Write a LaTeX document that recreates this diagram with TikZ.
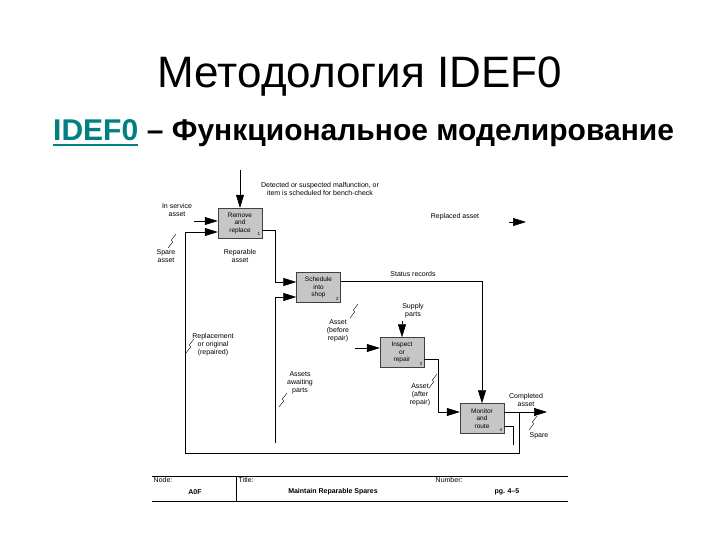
\documentclass[tikz,border=0pt]{standalone}
\usepackage{fontspec}
\setmainfont{Liberation Sans}
\usetikzlibrary{arrows.meta, positioning, calc}
\definecolor{idefteal}{RGB}{0,128,128}
\definecolor{boxgray}{RGB}{198,198,198}

\tikzset{
    funcbox/.style={draw=black!75, fill=boxgray, minimum width=44pt, minimum height=30pt, inner sep=1pt, align=center, font=\fontsize{6.5}{7.5}\selectfont},
    flow/.style={-{Triangle[length=13pt,width=8pt]}, line width=0.6pt},
    lab/.style={font=\fontsize{7}{8}\selectfont, align=center, inner sep=0.5pt},
    boxnum/.style={font=\fontsize{4.5}{5}\selectfont, inner sep=0pt},
    squig/.pic={\draw[line width=0.4pt] (-4,7) -- (0.6,1) -- (-0.6,-1) -- (4,-7);}
}

\begin{document}
\begin{tikzpicture}[x=1pt, y=-1pt]
    \useasboundingbox[fill=white] (0,0) rectangle (720,540);

    % title
    \node[anchor=base, font=\fontsize{44}{46}\selectfont] (title) at (360,88) {Методология IDEF0};
    \node[anchor=base west, inner xsep=0pt, font=\fontsize{30}{33}\selectfont\bfseries, text=idefteal] (subid) at (53,141) {IDEF0};
    \node[anchor=base west, inner xsep=0pt, font=\fontsize{30}{33}\selectfont\bfseries] (subrest) at (subid.base east) {\ – Функциональное моделирование};
    \draw[idefteal, line width=2pt] ($(subid.base west)+(0,4)$) -- ($(subid.base east)+(0,4)$);

    % activity boxes
    \node[funcbox] (rr)  at (240,223)   {Remove\\and\\replace};
    \node[funcbox] (sis) at (318.5,287.5) {Schedule\\into\\shop};
    \node[funcbox] (ior) at (402,352.5) {Inspect\\or\\repair};
    \node[funcbox] (mar) at (482,418.5) {Monitor\\and\\route};
    \foreach \b/\n in {rr/1, sis/2, ior/3, mar/4}
        \node[boxnum, anchor=south east] at ([shift={(-2pt,2pt)}]\b.south east) {\n};

    % free ends
    \coordinate (ctlin)  at (240,170);
    \coordinate (insvc)  at (194,221);
    \coordinate (rplfrom) at (509,222);
    \coordinate (rplto)  at (526,222);
    \coordinate (spbot)  at (185,453);
    \coordinate (awin)   at (275,443);
    \coordinate (bfin)   at (355,348);
    \coordinate (supin)  at (402,321);
    \coordinate (cmpout) at (547,412);
    \coordinate (spend)  at (513,445);

    % arrows
    \draw[flow] (ctlin) -- (rr.north);
    \draw[flow] (insvc) -- (insvc -| rr.west);
    \draw[flow] (rplfrom) -- (rplto);
    \draw[flow] ([yshift=-7pt]rr.east) -- ++(13,0) |- ([yshift=5.5pt]sis.west);
    \draw[flow] (awin) |- ([yshift=-9.5pt]sis.west);
    \draw[flow] ([yshift=6.5pt]sis.east) -| (mar.north);
    \draw[flow] (bfin) -- (bfin -| ior.west);
    \draw[flow] (supin) -- (ior.north);
    \draw[flow] ([yshift=-6.5pt]ior.east) -- ++(14,0) |- ([yshift=6.5pt]mar.west);
    \draw[flow] ([yshift=6.5pt]mar.east) -- (cmpout);
    \draw[flow] ([yshift=6.5pt]mar.east) -- ++(15,0) |- (spbot) |- ([yshift=-9pt]rr.west);
    \draw[line width=0.6pt] ([yshift=-7.5pt]mar.east) -| (spend);

    % labels
    \node[lab] (lctl) at (320,189) {Detected or suspected malfunction, or\\item is scheduled for bench-check};
    \node[lab] (lins) at (177,210) {In service\\asset};
    \node[lab] (lspa) at (166,256) {Spare\\asset};
    \node[lab] (lrep) at (240,256) {Reparable\\asset};
    \node[lab] (lrpl) at (455,217) {Replaced asset};
    \node[lab] (lsta) at (413,274) {Status records};
    \node[lab] (lsup) at (413,311) {Supply\\parts};
    \node[lab] (lbef) at (338,331) {Asset\\(before\\repair)};
    \node[lab] (lori) at (213,345) {Replacement\\or original\\(repaired)};
    \node[lab] (lawa) at (300,383) {Assets\\awaiting\\parts};
    \node[lab] (laft) at (420,395) {Asset\\(after\\repair)};
    \node[lab] (lcmp) at (526,400) {Completed\\asset};
    \node[lab] (lspr) at (539,436) {Spare};
    \foreach \sx/\sy in {172/241, 190/346, 354/311, 283/400, 433/381, 533/423}
        \pic at (\sx,\sy) {squig};

    % footer
    \draw[line width=0.7pt] (152,476) -- (568,476);
    \draw[line width=0.7pt] (152,501) -- (568,501);
    \draw[line width=0.7pt] (236,476) -- (236,501);
    \node[lab, anchor=north west] (fnode) at (153,477) {Node:};
    \node[lab, anchor=north west] (ftitle) at (238,477) {Title:};
    \node[lab, anchor=north west] (fnum) at (435,477) {Number:};
    \node[lab, font=\fontsize{7}{8}\selectfont\bfseries] (fa0) at (195,492) {A0F};
    \node[lab, font=\fontsize{7}{8}\selectfont\bfseries] (fmrs) at (333,492) {Maintain Reparable Spares};
    \node[lab, font=\fontsize{7}{8}\selectfont\bfseries] (fpg) at (507,492) {pg. 4–5};
\end{tikzpicture}
\end{document}
